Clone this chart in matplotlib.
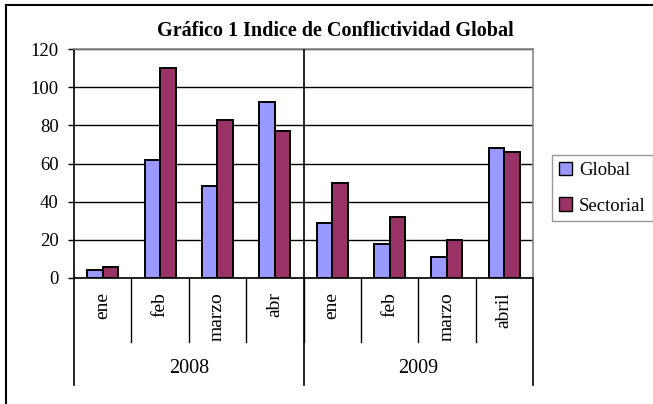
import matplotlib
matplotlib.use('Agg')
import matplotlib.pyplot as plt
from matplotlib.lines import Line2D
from matplotlib.patches import Patch
import numpy as np

# data
months = ['ene', 'feb', 'marzo', 'abr', 'ene', 'feb', 'marzo', 'abril']
years = ['2008', '2009']
months_per_year = [4, 4]
global_vals = [4, 62, 48, 92, 29, 18, 11, 68]
sectorial_vals = [6, 110, 83, 77, 50, 32, 20, 66]
yticks = [0, 20, 40, 60, 80, 100, 120]

color_global = '#9999FF'
color_sectorial = '#993366'

plt.rcParams['font.family'] = ['Liberation Serif', 'DejaVu Serif']

W, H = 653, 404
fig = plt.figure(figsize=(W / 100, H / 100), dpi=100)

# plot area in pixel terms
left, right, top, bottom = 74, 533, 49, 278
ax = fig.add_axes([left / W, 1 - bottom / H, (right - left) / W, (bottom - top) / H])
ax_h = bottom - top

x = np.arange(len(months))
w = 0.27
ax.bar(x - w / 2, global_vals, w, color=color_global, edgecolor='black', linewidth=1.4, zorder=3)
ax.bar(x + w / 2, sectorial_vals, w, color=color_sectorial, edgecolor='black', linewidth=1.4, zorder=3)

ax.set_xlim(-0.5, len(months) - 0.5)
ax.set_ylim(0, 120)
ax.set_yticks(yticks)
ax.tick_params(axis='y', direction='out', length=4, width=1, pad=7, labelsize=13.5)
ax.set_xticks([])
ax.yaxis.grid(True, color='black', linewidth=1)
ax.set_axisbelow(True)
ax.spines['left'].set_color('black')
ax.spines['bottom'].set_color('black')
ax.spines['top'].set_color('#888888')
ax.spines['right'].set_color('#888888')
for s in ax.spines.values():
    s.set_linewidth(1.2)

# divider between years inside the plot
start = 0
for n in months_per_year[:-1]:
    start += n
    ax.axvline(start - 0.5, color='black', linewidth=1.2, zorder=4)

# category axis: month ticks, labels, year groups
trans = ax.get_xaxis_transform()
tick_low = -(342 - bottom) / ax_h
year_low = -(385 - bottom) / ax_h
for i, m in enumerate(months):
    ax.text(i, -(292 - bottom) / ax_h, m, transform=trans, rotation=90,
            ha='center', va='top', fontsize=14)
for i in range(1, len(months)):
    ax.plot([i - 0.5, i - 0.5], [0, tick_low], color='black', linewidth=1,
            transform=trans, clip_on=False)
start = 0
for yr, n in zip(years, months_per_year):
    ax.plot([start - 0.5, start - 0.5], [0, year_low], color='black', linewidth=1.2,
            transform=trans, clip_on=False)
    ax.text(start + (n - 1) / 2, -(369 - bottom) / ax_h, yr, transform=trans,
            ha='center', va='center', fontsize=14.5)
    start += n
ax.plot([start - 0.5, start - 0.5], [0, year_low], color='black', linewidth=1.2,
        transform=trans, clip_on=False)

fig.text((147 + 523) / 2 / W, 1 - 31 / H, 'Gráfico 1 Indice de Conflictividad Global',
         ha='center', va='center', fontsize=14.5, fontweight='bold')

handles = [Patch(facecolor=color_global, edgecolor='black', label='Global'),
           Patch(facecolor=color_sectorial, edgecolor='black', label='Sectorial')]
leg = fig.legend(handles=handles, loc='upper left', bbox_to_anchor=(552 / W, 1 - 155 / H),
                 fontsize=13.5, frameon=True, fancybox=False, handlelength=0.7,
                 handleheight=0.7, handletextpad=0.4, borderpad=0.35, labelspacing=1.0,
                 borderaxespad=0)
leg.get_frame().set_edgecolor('#808080')
leg.get_frame().set_linewidth(1)

# outer chart border (only top and left visible in the crop)
fig.add_artist(Line2D([6 / W, 6 / W], [0, 1 - 5 / H], color='black', linewidth=1.5))
fig.add_artist(Line2D([6 / W, 1], [1 - 5 / H, 1 - 5 / H], color='black', linewidth=1.5))

fig.savefig('out.png', dpi=100)
